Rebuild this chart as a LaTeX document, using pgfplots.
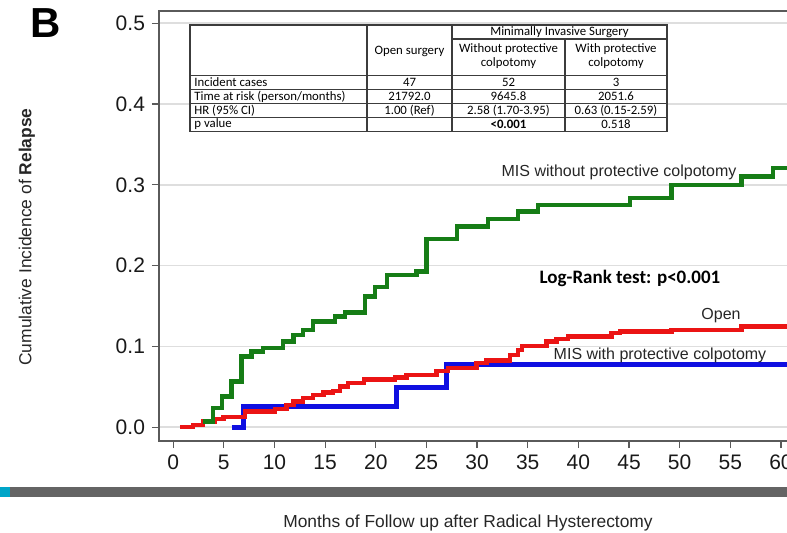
\documentclass[border=0pt]{standalone}
\usepackage{pgfplots}
\pgfplotsset{compat=1.18}
\usepackage{fontspec}
\setmainfont{Liberation Sans}
\newfontfamily\calfont{Carlito}
\definecolor{kmgreen}{RGB}{22,125,22}
\definecolor{kmred}{RGB}{235,20,20}
\definecolor{kmblue}{RGB}{15,15,225}
\definecolor{axgray}{RGB}{90,90,90}
\definecolor{tabline}{RGB}{60,60,60}
\definecolor{bandgray}{RGB}{100,100,100}
\definecolor{bandcyan}{RGB}{0,165,200}
\begin{document}
\begin{tikzpicture}
\useasboundingbox (0,0) rectangle (393.5pt,266pt);
\clip (0,0) rectangle (393.5pt,266pt);
\begin{axis}[
  at={(79.5pt,45.5pt)}, anchor=south west,
  scale only axis, width=321.1pt, height=215pt,
  xmin=-1.4, xmax=62, ymin=-0.017, ymax=0.515,
  xtick={0,5,10,15,20,25,30,35,40,45,50,55,60},
  ytick={0,0.1,0.2,0.3,0.4,0.5},
  yticklabel style={/pgf/number format/.cd, fixed, fixed zerofill, precision=1},
  /pgf/number format/assume math mode=true,
  tick label style={font=\fontsize{10.5}{12}\selectfont, text=black!90},
  ymajorgrids, grid style={black!13, line width=0.8pt},
  tick align=outside, tick pos=left, major tick length=3.5pt,
  axis line style={axgray, line width=0.8pt},
  tick style={axgray, line width=0.6pt},
]
\addplot[const plot, draw=kmblue, line width=2.3pt] coordinates {
(5.77,0) (6.92,0.026) (22.06,0.0495) (27.0,0.0777) (61.5,0.0777)};
\addplot[const plot, draw=kmred, line width=2.2pt] coordinates {
(0.67,0) (1.98,0.003) (2.97,0.007) (4.13,0.010) (4.95,0.013) (7.09,0.0193)
(10.05,0.0223) (11.2,0.0276) (11.86,0.0317) (12.84,0.0359) (13.83,0.040)
(14.82,0.0428) (15.8,0.045) (16.46,0.0505) (17.25,0.0545) (18.83,0.0592)
(21.9,0.0616) (23.05,0.0647) (26.01,0.0697) (27.13,0.0734) (29.96,0.0796)
(30.95,0.0824) (33.25,0.0895) (34.07,0.0957) (34.43,0.1006) (36.87,0.1059)
(37.86,0.1089) (39.0,0.1121) (43.29,0.1163) (44.11,0.1183) (49.21,0.1204)
(56.12,0.1245) (61.5,0.1245)};
\addplot[const plot, draw=kmgreen, line width=2.2pt] coordinates {
(2.97,0.0069) (3.96,0.0235) (4.79,0.0379) (5.77,0.0564) (6.76,0.0874)
(7.75,0.0936) (8.89,0.0978) (10.87,0.1059) (11.86,0.1142) (12.84,0.1204)
(13.83,0.1307) (15.97,0.1369) (16.96,0.1418) (18.93,0.1616) (19.92,0.1733)
(21.08,0.1885) (24.04,0.1926) (25.02,0.2327) (27.99,0.2483) (31.1,0.2574)
(34.07,0.2668) (36.04,0.2751) (45.09,0.2834) (49.21,0.3000) (56.12,0.3104)
(59.24,0.3205) (61.5,0.3205)};
\end{axis}
\begin{scope}[yshift=266pt, x=0.5pt, y=-0.5pt]
  % panel letter
  \node[font=\bfseries\fontsize{21}{24}\selectfont] at (46,23) {B};
  % axis titles
  \node[rotate=90, font=\fontsize{8.7}{10}\selectfont, text=black!85] at (27,237) {Cumulative Incidence of \textbf{Relapse}};
  \node[font=\fontsize{8.7}{10}\selectfont, text=black!85] at (468,523) {Months of Follow up after Radical Hysterectomy};
  % band
  \fill[bandgray] (10,487) rectangle (787,497);
  \fill[bandcyan] (0,487) rectangle (10,497);
  % table
  \filldraw[fill=white, draw=tabline, line width=0.55pt] (190,25) rectangle (667,131.5);
  \draw[tabline, line width=0.55pt] (367,25)--(367,131.5) (452,25)--(452,131.5) (565,39)--(565,131.5)
     (452,39)--(667,39) (190,75.5)--(667,75.5) (190,89.5)--(667,89.5) (190,103.5)--(667,103.5) (190,117.5)--(667,117.5);
  \begin{scope}[every node/.style={font=\calfont\fontsize{6.4}{7.5}\selectfont, inner sep=0pt}]
    \node at (559.5,32) {Minimally Invasive Surgery};
    \node at (409.5,51) {Open surgery};
    \node at (508.5,49) {Without protective};
    \node at (508.5,63) {colpotomy};
    \node at (616,49) {With protective};
    \node at (616,63) {colpotomy};
    \node[anchor=west] at (194,82.5) {Incident cases};
    \node[anchor=west] at (194,96.5) {Time at risk (person/months)};
    \node[anchor=west] at (194,110.5) {HR (95\% CI)};
    \node[anchor=west] at (194,124.5) {p value};
    \node at (409.5,82.5) {47};
    \node at (508.5,82.5) {52};
    \node at (616,82.5) {3};
    \node at (409.5,96.5) {21792.0};
    \node at (508.5,96.5) {9645.8};
    \node at (616,96.5) {2051.6};
    \node at (409.5,110.5) {1.00 (Ref)};
    \node at (508.5,110.5) {2.58 (1.70-3.95)};
    \node at (616,110.5) {0.63 (0.15-2.59)};
    \node at (508.5,124.5) {\bfseries <0.001};
    \node at (616,124.5) {0.518};
  \end{scope}
  % annotations
  \node[font=\calfont\bfseries\fontsize{9.5}{11}\selectfont] at (630,278) {Log-Rank test: p<0.001};
  \node[font=\fontsize{8}{9.6}\selectfont, text=black!85] at (619,172) {MIS without protective colpotomy};
  \node[font=\fontsize{8}{9.6}\selectfont, text=black!85] at (721,316) {Open};
  \node[font=\fontsize{8}{9.6}\selectfont, text=black!85] at (660,355) {MIS with protective colpotomy};
\end{scope}
\end{tikzpicture}
\end{document}
